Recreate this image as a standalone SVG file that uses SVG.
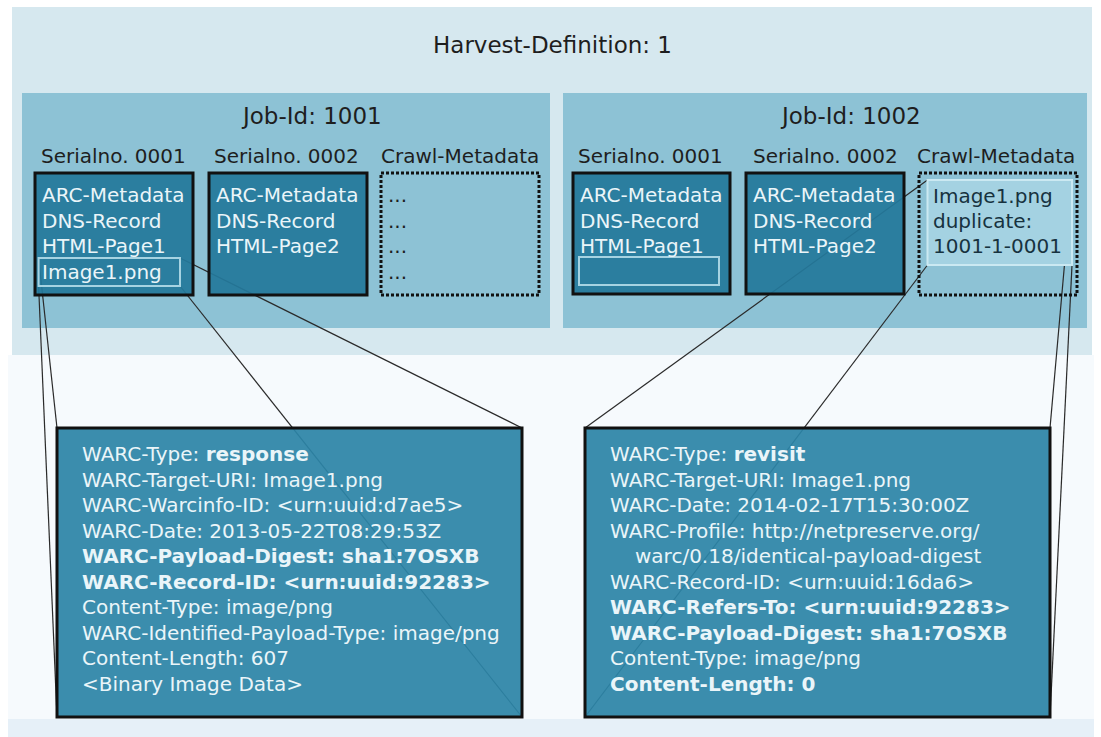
<svg xmlns="http://www.w3.org/2000/svg" width="1101" height="737" viewBox="0 0 1101 737">
<style>
text{font-family:"DejaVu Sans","Noto Sans",sans-serif;}
.t23{font-size:23px;fill:#1e1e1e;}
.t20{font-size:20px;fill:#1e1e1e;}
.w{font-size:20px;fill:#eaf5f9;}
.d{font-size:20px;fill:#17323f;}
.b{font-weight:bold;}
.job{fill:#8dc2d5;}
.ser{fill:#24789b;fill-opacity:0.93;stroke:#111;stroke-width:3;}
.warc{fill:#2c84a7;fill-opacity:0.93;stroke:#111;stroke-width:3;}
.crawl{fill:none;stroke:#111;stroke-width:3;stroke-dasharray:3 2;}
.hl{fill:none;stroke:#a6d3e2;stroke-width:2;}
.conn line{stroke:#2a2a2a;stroke-width:1.2;}
</style>
<rect width="1101" height="737" fill="#ffffff"/>
<rect x="8" y="355" width="1086" height="364" fill="#f6fafd"/>
<rect x="8" y="719" width="1086" height="18" fill="#e6f0f8"/>
<g id="harvest">
<rect x="12" y="7" width="1080" height="348" fill="#d6e8ef"/>
<text class="t23" x="433" y="53">Harvest-Definition: 1</text>
</g>
<g id="job1001">
<rect class="job" x="22" y="93" width="528" height="235"/>
<text class="t23" x="243" y="124">Job-Id: 1001</text>
<text class="t20" x="41" y="163">Serialno. 0001</text>
<text class="t20" x="214" y="163">Serialno. 0002</text>
<text class="t20" x="381" y="163">Crawl-Metadata</text>
</g>
<g id="job1002">
<rect class="job" x="563" y="93" width="524" height="235"/>
<text class="t23" x="782" y="124">Job-Id: 1002</text>
<text class="t20" x="578" y="163">Serialno. 0001</text>
<text class="t20" x="753" y="163">Serialno. 0002</text>
<text class="t20" x="917" y="163">Crawl-Metadata</text>
</g>
<g id="connectors" class="conn">
<line x1="38.6" y1="258" x2="57" y2="428"/>
<line x1="38.6" y1="286" x2="57" y2="717"/>
<line x1="180" y1="258" x2="522" y2="428"/>
<line x1="180" y1="286" x2="522" y2="717"/>
<line x1="927.5" y1="180" x2="585" y2="428"/>
<line x1="927.5" y1="265" x2="585" y2="717"/>
<line x1="1072" y1="180" x2="1050" y2="428"/>
<line x1="1072" y1="265" x2="1050" y2="717"/>
</g>
<g id="j1-serial1">
<rect class="ser" x="35" y="173" width="158" height="122"/>
<rect class="hl" x="38.6" y="258" width="141.4" height="28"/>
<text class="w" x="42" y="202">ARC-Metadata</text>
<text class="w" x="42" y="228">DNS-Record</text>
<text class="w" x="42" y="253">HTML-Page1</text>
<text class="w" x="42" y="279">Image1.png</text>
</g>
<g id="j1-serial2">
<rect class="ser" x="209" y="173" width="158" height="122"/>
<text class="w" x="216" y="202">ARC-Metadata</text>
<text class="w" x="216" y="228">DNS-Record</text>
<text class="w" x="216" y="253">HTML-Page2</text>
</g>
<g id="j1-crawl">
<rect class="crawl" x="381" y="173" width="158" height="122"/>
<text class="t20" x="388" y="202" fill="#333">...</text>
<text class="t20" x="388" y="228" fill="#333">...</text>
<text class="t20" x="388" y="253" fill="#333">...</text>
<text class="t20" x="388" y="279" fill="#333">...</text>
</g>
<g id="j2-serial1">
<rect class="ser" x="573" y="173" width="157" height="121"/>
<rect class="hl" x="579" y="257" width="140" height="28"/>
<text class="w" x="580" y="202">ARC-Metadata</text>
<text class="w" x="580" y="228">DNS-Record</text>
<text class="w" x="580" y="253">HTML-Page1</text>
</g>
<g id="j2-serial2">
<rect class="ser" x="746" y="173" width="158" height="121"/>
<text class="w" x="753" y="202">ARC-Metadata</text>
<text class="w" x="753" y="228">DNS-Record</text>
<text class="w" x="753" y="253">HTML-Page2</text>
</g>
<g id="j2-crawl">
<rect class="crawl" x="919" y="173" width="158" height="122"/>
<rect x="927.5" y="180" width="144.5" height="85" fill="#a4d2e2" stroke="#cbe9f2" stroke-width="2"/>
<text class="d" x="933" y="203">Image1.png</text>
<text class="d" x="933" y="228">duplicate:</text>
<text class="d" x="933" y="253">1001-1-0001</text>
</g>
<g id="warc-response">
<rect class="warc" x="57" y="428" width="465" height="289"/>
<text class="w" x="82" y="461">WARC-Type: <tspan class="b">response</tspan></text>
<text class="w" x="82" y="486.5">WARC-Target-URI: Image1.png</text>
<text class="w" x="82" y="512">WARC-Warcinfo-ID: &lt;urn:uuid:d7ae5&gt;</text>
<text class="w" x="82" y="537.5">WARC-Date: 2013-05-22T08:29:53Z</text>
<text class="w b" x="82" y="563">WARC-Payload-Digest: sha1:7OSXB</text>
<text class="w b" x="82" y="588.5">WARC-Record-ID: &lt;urn:uuid:92283&gt;</text>
<text class="w" x="82" y="614">Content-Type: image/png</text>
<text class="w" x="82" y="639.5">WARC-Identified-Payload-Type: image/png</text>
<text class="w" x="82" y="665">Content-Length: 607</text>
<text class="w" x="82" y="690.5">&lt;Binary Image Data&gt;</text>
</g>
<g id="warc-revisit">
<rect class="warc" x="585" y="428" width="465" height="289"/>
<text class="w" x="610" y="461">WARC-Type: <tspan class="b">revisit</tspan></text>
<text class="w" x="610" y="486.5">WARC-Target-URI: Image1.png</text>
<text class="w" x="610" y="512">WARC-Date: 2014-02-17T15:30:00Z</text>
<text class="w" x="610" y="537.5">WARC-Profile: http://netpreserve.org/</text>
<text class="w" x="635" y="563">warc/0.18/identical-payload-digest</text>
<text class="w" x="610" y="588.5">WARC-Record-ID: &lt;urn:uuid:16da6&gt;</text>
<text class="w b" x="610" y="614">WARC-Refers-To: &lt;urn:uuid:92283&gt;</text>
<text class="w b" x="610" y="639.5">WARC-Payload-Digest: sha1:7OSXB</text>
<text class="w" x="610" y="665">Content-Type: image/png</text>
<text class="w b" x="610" y="690.5">Content-Length: 0</text>
</g>
</svg>
